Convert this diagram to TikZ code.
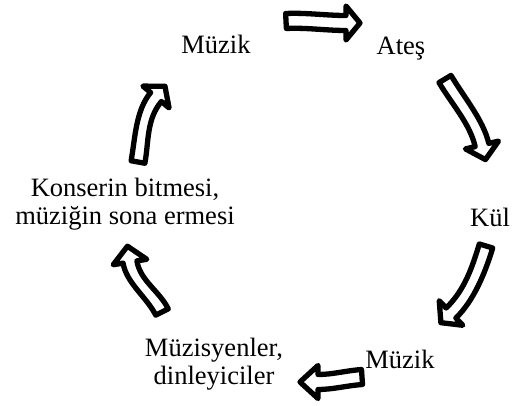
\documentclass[tikz,border=0pt]{standalone}
\usepackage{fontspec}
\setmainfont{Liberation Serif}
\usetikzlibrary{calc}
\tikzset{
  arrowline/.style={draw=black, fill=white, line width=5.3pt, line join=round},
  lbl/.style={font=\fontsize{26.5}{27.5}\selectfont, inner sep=0pt, anchor=base, align=center}
}
% #1 tail centre, #2 #3 controls, #4 head base centre, #5 shaft half width, #6 head half width, #7 head length
\newcommand\blockarr[7]{%
  \path (#1) coordinate (a0) (#2) coordinate (a1) (#3) coordinate (a2) (#4) coordinate (a3);
  \draw[arrowline] ($(a0)!#5!90:(a1)$) .. controls ($(a1)!#5!-90:(a0)$) and ($(a2)!#5!90:(a3)$) .. ($(a3)!#5!-90:(a2)$)
    -- ($(a3)!#6!-90:(a2)$) -- ($(a3)!-#7!(a2)$) -- ($(a3)!#6!90:(a2)$) -- ($(a3)!#5!90:(a2)$)
    .. controls ($(a2)!#5!-90:(a3)$) and ($(a1)!#5!90:(a0)$) .. ($(a0)!#5!-90:(a1)$) -- cycle;
}
\begin{document}
\begin{tikzpicture}[x=1pt, y=-1pt]
\useasboundingbox (0,0) rectangle (512,405);
% labels
\node[lbl] (muzik1) at (216,53) {Müzik};
\node[lbl] (ates) at (401,54) {Ateş};
\node[lbl] (kul) at (490,226) {Kül};
\node[lbl] (muzik2) at (400,368) {Müzik};
\node[lbl] (muzisyen) at (214,384) {Müzisyenler,\\dinleyiciler};
\node[lbl] (konser) at (125,224) {Konserin bitmesi,\\müziğin sona ermesi};
% block arrows
\blockarr{286,21}{306,20}{326,23}{346,23}{7.5pt}{17pt}{14pt}
\blockarr{445,79}{458.5,101.5}{476.5,121.75}{482,145}{7pt}{17pt}{15pt}
\blockarr{486,246}{478.75,270}{469,295.75}{451,313}{7pt}{17pt}{14pt}
\blockarr{362,377}{347,378}{333,382}{318,382}{7.5pt}{16.5pt}{18pt}
\blockarr{162,312}{153,294}{133.2,281.8}{130,262}{7pt}{17pt}{16pt}
\blockarr{138,162}{142,140}{141,115}{156,97}{7pt}{17pt}{14pt}
\end{tikzpicture}
\end{document}
